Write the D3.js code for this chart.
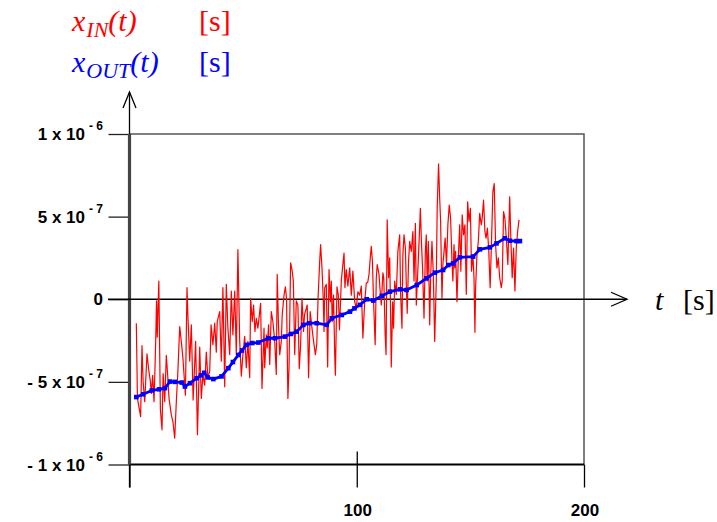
<!DOCTYPE html>
<html><head><meta charset="utf-8">
<script src="https://cdn.jsdelivr.net/npm/d3@7"></script>
<style>body{margin:0;background:#fff}</style>
</head><body><svg id="c" width="717" height="522"></svg>
<script>
// values in units of 1e-7 s
const UNIT = 1e-7;
const xDomain = [0, 200];
const yDomain = [-10, 10];
const xTickValues = [0, 100, 200];
const xTickLabels = ["", "100", "200"];
const yTickValues = [-10, -5, 0, 5, 10];
const yTickMain = ["- 1 x 10", "- 5 x 10", "0", "5 x 10", "1 x 10"];
const yTickExp = ["- 6", "- 7", "", "- 7", "- 6"];

// x_IN(t): [t, value]
const inSamples = [
[3.0,-1.45],[3.5,-6.0],[4.9,-7.1],[5.5,-2.8],[6.0,-5.0],[6.7,-6.2],[7.7,-3.3],[8.4,-4.2],[9.2,-5.0],[9.6,-5.7],
[10.2,-4.6],[10.8,-6.2],[11.5,-2.7],[11.9,-0.1],[12.2,-2.3],[12.9,1.1],[13.6,-6.7],[14.3,-7.9],[14.8,-4.5],[15.5,-6.2],
[16.2,-3.4],[16.9,-4.8],[17.4,-6.0],[18.4,-7.0],[19.1,-7.4],[19.9,-8.4],[20.6,-6.2],[21.3,-4.35],[22.1,-1.65],[22.8,-2.55],
[23.5,-3.55],[24.6,-5.8],[25.3,0.7],[25.7,-1.0],[26.5,-3.75],[27.2,-1.55],[28.0,-6.1],
[29.1,-2.55],[29.9,-8.2],[30.9,-2.9],[31.6,-6.0],[32.3,-4.55],[33.1,-5.2],[33.8,-3.2],[34.5,-4.75],[35.3,-4.35],[35.9,-1.55],
[36.7,-2.75],[37.5,-1.45],[38.2,-3.2],[38.6,-1.35],[39.7,-0.75],[40.4,-3.75],[41.1,0.7],[41.9,-5.3],[42.6,0.9],[43.3,-1.75],
[44.1,-3.35],[44.8,0.5],[45.5,-2.15],[46.3,0.5],[47.0,-3.35],[47.7,3.0],[48.5,-2.55],[49.2,-4.65],[49.9,-3.35],[50.7,-2.25],
[51.4,-4.15],[52.1,-2.55],[52.9,-4.75],[53.3,0.05],[54.0,-1.35],[54.6,-0.35],[55.2,-1.95],[55.8,-1.15],[56.5,-1.75],
[57.7,-0.25],[58.3,-5.4],[59.2,-1.75],[59.5,-4.15],[60.2,-2.15],[60.6,-2.95],[61.2,-1.55],[61.7,-3.95],[62.4,-0.75],[63.1,-1.35],
[63.9,-2.55],[64.6,-4.55],[65.0,1.5],[65.6,-1.75],[66.1,-3.35],[66.8,-2.55],[67.2,-0.95],[68.0,0.25],[68.6,0.75],[69.1,0.05],
[69.7,-6.0],[70.2,-4.15],[70.9,2.2],[71.5,1.8],[72.1,1.1],[72.7,-3.35],[73.4,-0.1],[74.1,-0.35],[74.7,-4.2],[75.3,-2.75],
[75.9,0.05],[76.6,-1.95],[77.0,-0.95],[77.8,-0.55],[78.2,-0.35],[78.8,-4.75],[79.5,-0.75],[80.3,-1.75],[81.2,-2.75],[81.8,-3.35],
[82.4,-2.75],[83.0,0.15],[83.7,2.3],[84.1,3.3],[84.7,1.9],[85.3,-0.15],
[85.6,-1.95],[85.9,0.7],[86.6,0.9],[87.2,-4.1],[87.8,1.8],[88.4,-0.15],[88.8,1.1],[89.2,-1.35],[89.8,0.25],[90.3,-3.35],
[90.6,-4.6],[91.3,0.75],[91.9,0.25],[92.4,-1.85],[93.2,1.1],[93.6,1.7],[94.4,2.8],[94.8,0.7],[95.4,1.8],[96.1,0.8],
[96.9,1.9],[97.6,0.25],[98.3,1.7],[99.1,-0.15],[99.8,-0.55],[100.5,0.45],[101.3,0.25],[102.0,0.8],[102.7,-2.35],[103.5,-0.15],
[104.2,1.0],[104.8,1.0],[105.4,1.5],[106.0,2.6],[106.4,3.2],[106.9,2.3],[107.4,-0.15],[108.1,-2.75],[108.6,1.3],[109.0,2.1],
[109.8,1.5],[110.4,0.3],[110.8,-0.35],[111.5,1.6],[111.9,1.3],[112.5,-2.15],[112.9,-3.35],[113.4,4.8],[114.0,1.3],
[114.5,2.5],[114.9,-0.95],[115.2,-4.1],[115.8,-0.15],[116.2,-1.75],[116.7,1.1],[117.4,0.3],[118.1,2.9],[118.9,3.9],[119.3,0.3],
[119.9,-1.75],[120.3,2.7],[120.8,3.9],[121.4,3.1],[121.8,0.9],[122.2,-0.85],[122.8,2.3],[123.3,3.5],[124.0,2.9],[124.7,4.1],
[125.2,1.1],[125.8,4.6],[126.2,-0.35],[126.6,0.9],[127.2,2.7],[128.0,5.5],[128.4,3.7],[129.0,1.7],[129.6,-1.15],[130.2,2.9],
[130.6,3.9],[131.0,1.1],[131.5,3.5],[132.1,-1.55],[132.5,1.3],[133.1,3.5],[133.7,1.5],[134.3,-2.55],[135.0,1.1],[135.4,5.5],
[136.0,8.2],[136.5,6.1],[136.9,4.7],[137.5,0.05],[137.9,2.1],[138.3,2.7],[138.9,3.7],[139.5,2.1],[140.1,4.5],[140.7,5.7],
[141.3,4.9],[141.9,2.3],[142.3,1.1],
[142.8,3.3],[143.1,1.9],[143.5,2.9],[144.1,-0.15],[144.7,2.5],[145.3,4.5],[145.8,1.7],[146.4,5.1],[147.0,3.9],[147.6,4.5],
[148.2,0.3],[148.8,5.9],[149.4,4.7],[150.0,5.5],[150.5,1.7],[151.1,2.7],[151.6,1.3],[152.0,-2.0],[152.3,0.7],[152.9,2.7],
[153.5,3.5],[154.1,5.2],[154.8,4.5],[155.2,4.9],[155.8,6.0],[156.4,4.1],[156.9,3.7],[157.5,4.3],[158.1,2.9],[158.7,0.7],
[159.3,3.5],[159.9,6.5],[160.5,7.0],[161.1,3.3],[161.7,1.9],[162.3,2.5],[162.9,1.3],[163.6,0.7],[164.0,1.1],[164.6,5.3],
[165.2,4.9],[165.8,3.7],[166.5,2.1],[167.3,6.2],[167.8,3.7],[168.4,1.3],[169.0,3.1],[169.6,0.5],[170.2,3.1],[170.8,4.1],[171.4,4.8]
];

// x_OUT(t): [t, value]
const outSamples = [
[3.0,-5.92],[6.0,-5.75],[9.8,-5.52],[13.0,-5.45],[15.6,-5.38],[17.8,-4.98],[20.0,-5.0],[23.0,-5.04],[24.4,-5.28],[26.6,-5.08],
[29.6,-4.78],[31.5,-4.6],[32.9,-4.45],[34.4,-4.73],[36.9,-4.83],[40.5,-4.67],[43.5,-4.17],[45.5,-3.8],[47.9,-3.37],[49.5,-3.1],
[51.5,-2.76],[54.0,-2.65],[56.7,-2.62],[61.1,-2.36],[64.0,-2.36],[68.4,-2.26],[71.0,-2.1],[73.6,-1.96],[76.5,-1.55],[79.0,-1.45],
[82.4,-1.45],[86.8,-1.55],[89.0,-1.15],[93.4,-0.95],[97.0,-0.75],[99.0,-0.55],[101.4,-0.34],[104.4,0.0],[107.3,-0.08],[111.0,0.2],
[114.6,0.46],[119.0,0.6],[121.9,0.56],[126.4,0.86],[130.7,1.27],[134.4,1.61],[138.0,1.77],[140.3,2.07],[142.4,2.17],[145.4,2.54],
[151.2,2.58],[154.2,3.02],[158.6,3.14],[161.5,3.38],[165.2,3.69],[167.4,3.54],[170.3,3.52],[171.8,3.52]
];

const svg = d3.select("#c");
const x = d3.scaleLinear().domain(xDomain).range([129.5, 584]);
const y = d3.scaleLinear().domain(yDomain).range([464.5, 134]);
const x0 = x(0), x1 = x(200), yTop = y(10), yBot = y(-10), yZero = y(0);

// frame (top + right)
svg.append("path")
  .attr("d", `M${x0},${yTop}H${x1}V${yBot}`)
  .attr("fill", "none").attr("stroke", "#555").attr("stroke-width", 1.5);

// y ticks
const yAxis = svg.append("g").attr("transform", `translate(${x0},0)`)
  .call(d3.axisLeft(y).tickValues(yTickValues).tickSize(21).tickFormat(""));
yAxis.select(".domain").remove();
yAxis.selectAll("line").attr("stroke", "#222").attr("stroke-width", 1.3);

// x ticks (outside)
const xAxis = svg.append("g").attr("transform", `translate(0,${yBot})`)
  .call(d3.axisBottom(x).tickValues(xTickValues).tickSize(23).tickFormat(""));
xAxis.select(".domain").remove();
xAxis.selectAll("line").attr("stroke", "#000").attr("stroke-width", 1.3);
// inner tick at 100
const xAxisIn = svg.append("g").attr("transform", `translate(0,${yBot})`)
  .call(d3.axisTop(x).tickValues([100]).tickSize(13).tickFormat(""));
xAxisIn.select(".domain").remove();
xAxisIn.selectAll("line").attr("stroke", "#000").attr("stroke-width", 1.3);

// bottom frame line
svg.append("line").attr("x1", x0).attr("x2", x1).attr("y1", yBot).attr("y2", yBot)
  .attr("stroke", "#000").attr("stroke-width", 2);

// vertical axis with arrow
svg.append("line").attr("x1", x0).attr("x2", x0).attr("y1", yBot + 23).attr("y2", 92)
  .attr("stroke", "#000").attr("stroke-width", 1.3);
svg.append("line").attr("x1", x0).attr("x2", x0).attr("y1", yBot).attr("y2", yTop)
  .attr("stroke", "#444").attr("stroke-width", 3.2);
svg.append("path").attr("d", `M${x0 - 6.5},108L${x0},92L${x0 + 6.5},108`)
  .attr("fill", "none").attr("stroke", "#000").attr("stroke-width", 1.3);

// horizontal axis (t) with arrow
svg.append("line").attr("x1", 108).attr("x2", 627).attr("y1", yZero).attr("y2", yZero)
  .attr("stroke", "#000").attr("stroke-width", 1.6);
svg.append("path").attr("d", `M611,${yZero - 7}L627,${yZero}L611,${yZero + 7}`)
  .attr("fill", "none").attr("stroke", "#000").attr("stroke-width", 1.3);

// y tick labels
const yl = svg.append("g").attr("font-family", "Liberation Sans, Arial, sans-serif")
  .attr("font-weight", "bold").attr("font-size", 17).attr("fill", "#000");
yTickValues.forEach((v, i) => {
  const t = yl.append("text").attr("x", 103).attr("y", y(v) + 6).attr("text-anchor", "end");
  t.append("tspan").text(yTickMain[i]);
  if (yTickExp[i]) t.append("tspan").attr("dx", 4).attr("dy", -10).attr("font-size", 12).text(yTickExp[i]);
});

// x tick labels
const xl = svg.append("g").attr("font-family", "Liberation Sans, Arial, sans-serif")
  .attr("font-weight", "bold").attr("font-size", 17).attr("fill", "#000");
xTickValues.forEach((v, i) => {
  if (xTickLabels[i]) xl.append("text").attr("x", x(v) + 1).attr("y", 516).attr("text-anchor", "middle").text(xTickLabels[i]);
});

// data
const line = d3.line().x(d => x(d[0])).y(d => y(d[1]));
svg.append("path").datum(inSamples).attr("d", line)
  .attr("fill", "none").attr("stroke", "#ff0000").attr("stroke-width", 1.2).attr("stroke-linejoin", "round");
svg.append("path").datum(outSamples).attr("d", line)
  .attr("fill", "none").attr("stroke", "#0000ff").attr("stroke-width", 2.8).attr("stroke-linejoin", "round");
svg.append("g").selectAll("rect").data(outSamples).join("rect")
  .attr("x", d => x(d[0]) - 2.3).attr("y", d => y(d[1]) - 2.3)
  .attr("width", 4.6).attr("height", 4.6).attr("fill", "#0000ff");

// legend / titles
const serif = "Liberation Serif, Times New Roman, serif";
function title(yy, color, sub) {
  const t = svg.append("text").attr("x", 72).attr("y", yy).attr("font-family", serif)
    .attr("font-size", 30).attr("font-style", "italic").attr("fill", color);
  t.append("tspan").text("x");
  t.append("tspan").attr("font-size", 22).attr("dy", 6).attr("dx", 1).text(sub);
  t.append("tspan").attr("dy", -6).text("(t)");
  svg.append("text").attr("x", 199).attr("y", yy).attr("font-family", serif)
    .attr("font-size", 30).attr("fill", color).text("[s]");
}
title(31, "#ff0000", "IN");
title(72, "#0000ff", "OUT");

// t [s] axis label
svg.append("text").attr("x", 655).attr("y", yZero + 11).attr("font-family", serif)
  .attr("font-size", 30).attr("font-style", "italic").attr("fill", "#000").text("t");
svg.append("text").attr("x", 683).attr("y", yZero + 11).attr("font-family", serif)
  .attr("font-size", 30).attr("fill", "#000").text("[s]");
</script></body></html>
